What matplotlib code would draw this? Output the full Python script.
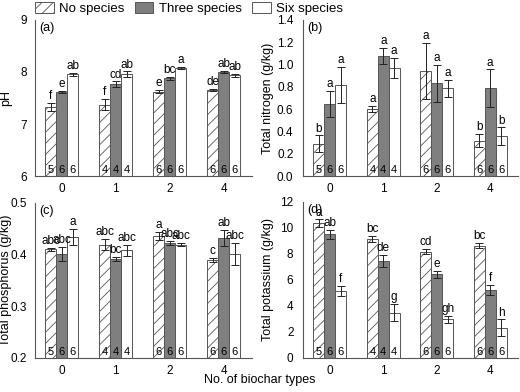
import matplotlib.pyplot as plt
import numpy as np
from matplotlib.patches import Patch

plt.rcParams['font.family'] = ['Liberation Sans', 'DejaVu Sans']
plt.rcParams['hatch.linewidth'] = 0.6
plt.rcParams['hatch.color'] = '#555555'

groups = ["0", "1", "2", "4"]
series = ["No species", "Three species", "Six species"]
n_obs = [[5, 6, 6], [4, 4, 4], [6, 6, 6], [6, 6, 6]]

# pH
ph_mean = [[7.33, 7.62, 7.96], [7.37, 7.77, 7.96], [7.62, 7.88, 8.08], [7.65, 8.00, 7.94]]
ph_err = [[0.08, 0.02, 0.03], [0.11, 0.05, 0.05], [0.03, 0.03, 0.02], [0.02, 0.02, 0.03]]
ph_let = [["f", "e", "ab"], ["f", "cd", "ab"], ["e", "bc", "a"], ["de", "ab", "ab"]]

# total nitrogen
tn_mean = [[0.29, 0.646, 0.817], [0.601, 1.077, 0.967], [0.943, 0.832, 0.787], [0.317, 0.787, 0.359]]
tn_err = [[0.075, 0.117, 0.165], [0.03, 0.07, 0.09], [0.25, 0.165, 0.075], [0.06, 0.17, 0.078]]
tn_let = [["b", "a", "a"], ["a", "a", "a"], ["a", "a", "a"], ["b", "a", "b"]]

# total phosphorus
tp_mean = [[0.410, 0.401, 0.434], [0.419, 0.391, 0.408], [0.435, 0.422, 0.419], [0.390, 0.432, 0.401]]
tp_err = [[0.003, 0.013, 0.016], [0.011, 0.004, 0.011], [0.008, 0.004, 0.003], [0.004, 0.016, 0.021]]
tp_let = [["abc", "abc", "a"], ["abc", "bc", "abc"], ["a", "abc", "abc"], ["c", "ab", "abc"]]

# total potassium
tk_mean = [[10.36, 9.51, 5.15], [9.15, 7.46, 3.49], [8.18, 6.44, 2.97], [8.62, 5.23, 2.33]]
tk_err = [[0.3, 0.33, 0.4], [0.25, 0.46, 0.64], [0.2, 0.28, 0.28], [0.2, 0.38, 0.64]]
tk_let = [["a", "ab", "f"], ["bc", "de", "g"], ["cd", "e", "gh"], ["bc", "f", "h"]]

panels = [
    ("(a)", "pH", ph_mean, ph_err, ph_let, (6, 9), [6, 7, 8, 9], "{:.0f}"),
    ("(b)", "Total nitrogen (g/kg)", tn_mean, tn_err, tn_let, (0, 1.4), np.arange(0, 1.41, 0.2), "{:.1f}"),
    ("(c)", "Total phosphorus (g/kg)", tp_mean, tp_err, tp_let, (0.2, 0.5), [0.2, 0.3, 0.4, 0.5], "{:.1f}"),
    ("(d)", "Total potassium (g/kg)", tk_mean, tk_err, tk_let, (0, 12), [0, 2, 4, 6, 8, 10, 12], "{:.0f}"),
]

positions = [
    [0.067, 0.551, 0.418, 0.398],
    [0.583, 0.551, 0.414, 0.398],
    [0.067, 0.087, 0.418, 0.396],
    [0.583, 0.087, 0.414, 0.398],
]
label_x = [-0.104, -0.135, -0.104, -0.135]
tick_pad = [5.5, 7, 5.5, 7]

styles = [
    dict(facecolor="white", hatch="///", edgecolor="#555555"),
    dict(facecolor="#7f7f7f", edgecolor="#555555"),
    dict(facecolor="white", edgecolor="#555555"),
]

fig = plt.figure(figsize=(5.2, 3.92), dpi=100)
x = np.arange(len(groups))
w = 0.205

for (tag, ylab, mean, err, lets, ylim, yt, fmt), pos, lx, tp in zip(panels, positions, label_x, tick_pad):
    ax = fig.add_axes(pos)
    mean = np.array(mean)
    err = np.array(err)
    span = ylim[1] - ylim[0]
    for j in range(3):
        xs = x + (j - 1) * w
        ax.bar(xs, mean[:, j] - ylim[0], w, bottom=ylim[0], linewidth=0.7, **styles[j])
        ax.errorbar(xs, mean[:, j], yerr=err[:, j], fmt="none", ecolor="#222222",
                    elinewidth=0.7, capsize=3, capthick=0.7)
        for i in range(len(groups)):
            ax.text(xs[i], mean[i, j] + err[i, j] + span * 0.005, lets[i][j],
                    ha="center", va="bottom", fontsize=8.5)
            ax.text(xs[i], ylim[0] + span * 0.008, str(n_obs[i][j]),
                    ha="center", va="bottom", fontsize=8)
    ax.set_xlim(-0.5, 3.53)
    ax.set_ylim(*ylim)
    ax.set_yticks(yt)
    ax.set_yticklabels([fmt.format(v) for v in yt])
    ax.set_xticks(x)
    ax.set_xticklabels(groups)
    ax.tick_params(labelsize=8.5, length=0)
    ax.tick_params(axis="y", pad=tp)
    ax.tick_params(axis="x", pad=5)
    ax.set_ylabel(ylab, fontsize=9)
    ax.yaxis.set_label_coords(lx, 0.5)
    for s in ["top", "right"]:
        ax.spines[s].set_visible(False)
    for s in ["left", "bottom"]:
        ax.spines[s].set_color("#555555")
        ax.spines[s].set_linewidth(0.8)
    ax.text(0.02, 0.985, tag, transform=ax.transAxes, ha="left", va="top", fontsize=9)

handles = [Patch(linewidth=0.7, **st) for st in styles]
fig.legend(handles, series, loc="upper left", bbox_to_anchor=(0.055, 1.012), ncol=3,
           frameon=False, fontsize=9.5, handlelength=1.4, handleheight=0.9,
           columnspacing=0.8, handletextpad=0.4, borderaxespad=0.1)
fig.text(0.5, 0.03, "No. of biochar types", ha="center", va="center", fontsize=9)

fig.savefig("out.png", dpi=100)
